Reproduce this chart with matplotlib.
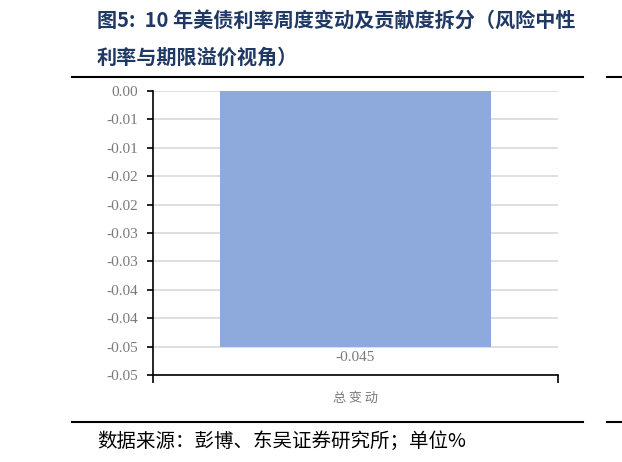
import matplotlib
matplotlib.use("Agg")
import matplotlib.pyplot as plt

categories = ["总变动"]
values = [-0.045]
value_labels = ["-0.045"]
yticks = [0, -0.005, -0.01, -0.015, -0.02, -0.025, -0.03, -0.035, -0.04, -0.045, -0.05]
ytick_labels = ["0.00", "-0.01", "-0.01", "-0.02", "-0.02", "-0.03", "-0.03",
                "-0.04", "-0.04", "-0.05", "-0.05"]

title_line1 = "图5:  10 年美债利率周度变动及贡献度拆分（风险中性"
title_line2 = "利率与期限溢价视角）"
source_text = "数据来源：彭博、东吴证券研究所；单位%"

cjk = ["Noto Sans CJK SC", "DejaVu Sans"]
serif = ["Liberation Serif", "Noto Sans CJK SC"]
grey = "#7A7A7A"
navy = "#1F3864"

fig = plt.figure(figsize=(6.22, 4.62), dpi=100)
W, H = 622, 462

ax = fig.add_axes([153 / W, 1 - 375 / H, (558 - 153) / W, (375 - 91) / H])
x = list(range(len(categories)))
ax.bar(x, values, width=0.667, color="#8EA9DB", zorder=2)
for xi, v, lab in zip(x, values, value_labels):
    ax.annotate(lab, (xi, v), xytext=(0, -3), textcoords="offset points",
                ha="center", va="top", fontsize=11, color=grey, family=serif)

ax.set_xlim(-0.5, 0.5)
ax.set_ylim(-0.05, 0)
ax.set_yticks(yticks)
ax.set_yticklabels(ytick_labels, family=serif, fontsize=11, color=grey)
ax.yaxis.grid(True, color="#D9D9D9", linewidth=1.2, zorder=0)
ax.set_xticks(x)
ax.set_xticklabels(["\u2009".join(c) for c in categories], family=cjk, fontsize=9.5, color=grey)
ax.tick_params(axis="x", length=0, pad=12)
ax.set_xticks([-0.5, 0.5], minor=True)
ax.tick_params(axis="x", which="minor", length=6, width=1.2, direction="out", color="black")
ax.tick_params(axis="y", length=4, width=1.2, direction="out", color="black", pad=7)
for s in ["top", "right"]:
    ax.spines[s].set_visible(False)
for s in ["left", "bottom"]:
    ax.spines[s].set_linewidth(1.2)
    ax.spines[s].set_color("black")

fig.text(97 / W, 1 - 20 / H, title_line1, family=cjk, fontsize=14.5, fontweight="bold",
         color=navy, va="center", ha="left")
fig.text(97 / W, 1 - 57 / H, title_line2, family=cjk, fontsize=14.5, fontweight="bold",
         color=navy, va="center", ha="left")

fig.add_artist(plt.Line2D([72 / W, 583 / W], [1 - 77 / H, 1 - 77 / H], color="black", lw=1.5))
fig.add_artist(plt.Line2D([607 / W, 1], [1 - 77 / H, 1 - 77 / H], color="black", lw=1.5))
fig.add_artist(plt.Line2D([72 / W, 583 / W], [1 - 422 / H, 1 - 422 / H], color="black", lw=1.5))
fig.add_artist(plt.Line2D([607 / W, 1], [1 - 422 / H, 1 - 422 / H], color="black", lw=1.5))

fig.text(97 / W, 1 - 441 / H, source_text, family=cjk, fontsize=14, color="black",
         va="center", ha="left")

fig.savefig("out.png", dpi=100)
